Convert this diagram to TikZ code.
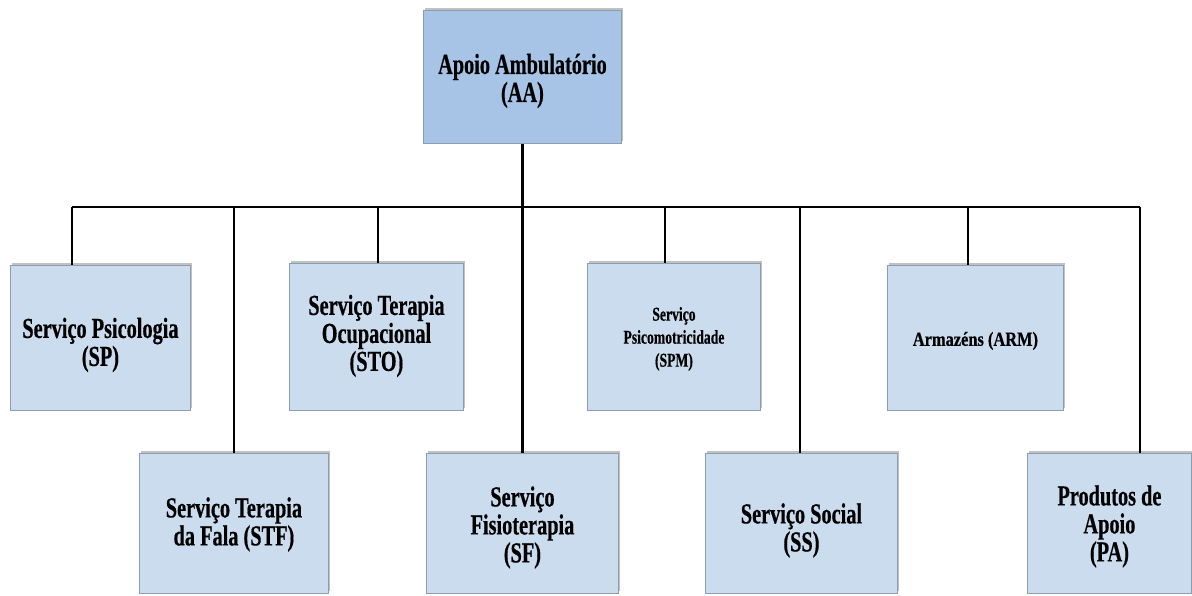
\documentclass[tikz,border=0pt]{standalone}
\usepackage{fontspec}
\setmainfont{Liberation Serif}[FakeStretch=0.7, FakeBold=0.5]
\newfontfamily\armfont{Liberation Serif}[FakeStretch=0.82, FakeBold=0.5]
\usetikzlibrary{shadows}
\definecolor{boxfill}{HTML}{CBDCEE}
\definecolor{topfill}{HTML}{A7C4E7}
\definecolor{boxedge}{HTML}{8C9DB0}
\tikzset{
  unit/.style={draw=boxedge, line width=0.9pt, fill=boxfill, anchor=north west,
    inner sep=0pt,
    drop shadow={shadow xshift=2pt, shadow yshift=2.5pt, opacity=0.35, fill=black!70}},
  head/.style={unit, fill=topfill},
  txt/.style={align=center, inner sep=0pt, font=\bfseries\fontsize{29}{28}\selectfont},
  link/.style={line width=2.6pt, black}
}
\begin{document}
\begin{tikzpicture}[x=1pt, y=-1pt]
\useasboundingbox (0,0) rectangle (1192,596);
% boxes
\node[head, minimum width=198pt, minimum height=133pt,
  label={[txt, yshift=-4pt]center:{Apoio Ambulatório\\(AA)}}] (AA) at (423,10) {};
\node[unit, minimum width=180pt, minimum height=145pt,
  label={[txt, yshift=-7pt]center:{Serviço Psicologia\\(SP)}}] (SP) at (10,265) {};
\node[unit, minimum width=174pt, minimum height=147pt,
  label={[txt, yshift=1pt]center:{Serviço Terapia\\Ocupacional\\(STO)}}] (STO) at (289,263) {};
\node[unit, minimum width=173pt, minimum height=147pt,
  label={[txt, yshift=-2pt, font=\bfseries\fontsize{19.5}{23}\selectfont]center:{Serviço\\Psicomotricidade\\(SPM)}}] (SPM) at (587,263) {};
\node[unit, minimum width=176pt, minimum height=145pt,
  label={[txt, yshift=-3pt, font=\armfont\bfseries\fontsize{20}{23}\selectfont]center:{Armazéns (ARM)}}] (ARM) at (887,265) {};
\node[unit, minimum width=189pt, minimum height=140pt,
  label={[txt, yshift=-1pt]center:{Serviço Terapia\\da Fala (STF)}}] (STF) at (139,453) {};
\node[unit, minimum width=192pt, minimum height=140pt,
  label={[txt, yshift=-4pt]center:{Serviço\\Fisioterapia\\(SF)}}] (SF) at (426,453) {};
\node[unit, minimum width=192pt, minimum height=140pt,
  label={[txt, yshift=-7pt]center:{Serviço Social\\(SS)}}] (SS) at (705,453) {};
\node[unit, minimum width=164pt, minimum height=140pt,
  label={[txt, yshift=-3pt]center:{Produtos de\\Apoio\\(PA)}}] (PA) at (1027,453) {};
% bus points
\coordinate (bSP) at (72,207);
\coordinate (bSTF) at (234,207);
\coordinate (bSTO) at (378,207);
\coordinate (bSPM) at (665,207);
\coordinate (bSS) at (800,207);
\coordinate (bARM) at (968,207);
\coordinate (bPA) at (1140,207);
% connectors
\draw[link] (bSP) -- (bPA);
\draw[link] (AA.south) -- (SF.north);
\draw[link] (bSP) -- (bSP |- SP.north);
\draw[link] (bSTF) -- (bSTF |- STF.north);
\draw[link] (bSTO) -- (bSTO |- STO.north);
\draw[link] (bSPM) -- (bSPM |- SPM.north);
\draw[link] (bSS) -- (bSS |- SS.north);
\draw[link] (bARM) -- (bARM |- ARM.north);
\draw[link] (bPA) -- (bPA |- PA.north);
\end{tikzpicture}
\end{document}
